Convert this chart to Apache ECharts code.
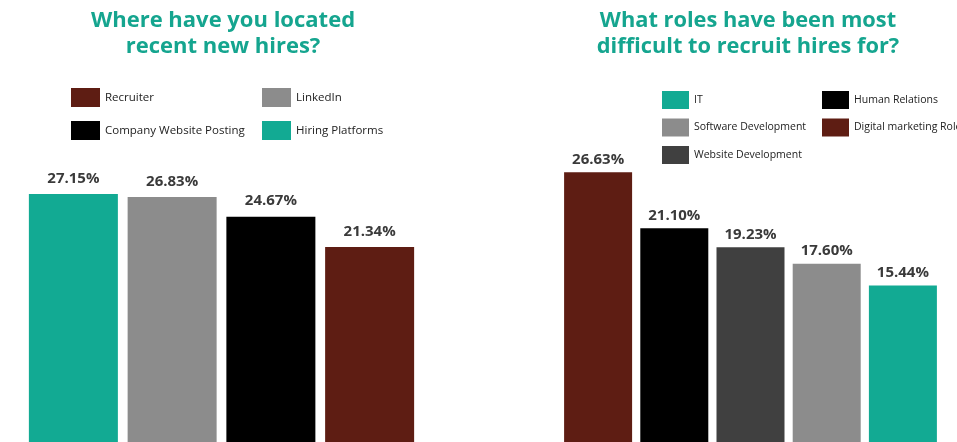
<!DOCTYPE html>
<html>
<head>
<meta charset="utf-8">
<script src="https://cdn.jsdelivr.net/npm/echarts@6/dist/echarts.min.js"></script>
<style>
html, body { margin: 0; padding: 0; background: #fff; }
#hiresChart { width: 957px; height: 442px; }
</style>
</head>
<body>
<div id="hiresChart"></div>
<script>
// left chart: where new hires were located
var sourceNames = ['Hiring Platforms', 'LinkedIn', 'Company Website Posting', 'Recruiter']
var sourceValues = [27.15, 26.83, 24.67, 21.34]
var sourceColors = ['#12aa93', '#8c8c8c', '#000000', '#5e1d13']

// right chart: most difficult roles to recruit
var roleNames = ['Digital marketing Roles', 'Human Relations', 'Website Development', 'Software Development', 'IT']
var roleValues = [26.63, 21.10, 19.23, 17.60, 15.44]
var roleColors = ['#5e1d13', '#000000', '#404040', '#8c8c8c', '#12aa93']

var chart = echarts.init(document.getElementById('hiresChart'))

function makeSeries(names, values, colors, idx, width, dist) {
    return names.map(function(name, i) {
        return {
            name: name,
            type: 'bar',
            xAxisIndex: idx,
            yAxisIndex: idx,
            barWidth: width,
            barGap: '-100%',
            itemStyle: { color: colors[i] },
            label: {
                show: true,
                position: 'top',
                distance: dist,
                color: '#3a3a3a',
                fontFamily: 'Open Sans',
                fontWeight: 'bold',
                fontSize: 15,
                formatter: function(p) {
                    return p.value.toFixed(2) + '%'
                }
            },
            data: values.map(function(v, j) { return j === i ? v : '-' })
        }
    })
}

var leftLegendText = { fontFamily: 'Open Sans', fontSize: 11.5, color: '#222' }
var rightLegendText = { fontFamily: 'Open Sans', fontSize: 10.5, color: '#222' }

var option = {
    backgroundColor: '#fff',
    animation: false,
    title: [
        {
            text: 'Where have you located\nrecent new hires?',
            left: 223, top: 8, padding: 0, textAlign: 'center',
            textStyle: { fontFamily: 'Open Sans', fontWeight: 'bold', fontSize: 22, lineHeight: 26, color: '#15a58f' }
        },
        {
            text: 'What roles have been most\ndifficult to recruit hires for?',
            left: 748, top: 8, padding: 0, textAlign: 'center',
            textStyle: { fontFamily: 'Open Sans', fontWeight: 'bold', fontSize: 21.8, lineHeight: 26, color: '#15a58f' }
        }
    ],
    legend: [
        { data: ['Recruiter', 'Company Website Posting'], orient: 'vertical', left: 71, top: 88, padding: 0,
          itemWidth: 29, itemHeight: 19, itemGap: 14, icon: 'rect', textStyle: leftLegendText },
        { data: ['LinkedIn', 'Hiring Platforms'], orient: 'vertical', left: 262, top: 88, padding: 0,
          itemWidth: 29, itemHeight: 19, itemGap: 14, icon: 'rect', textStyle: leftLegendText },
        { data: ['IT', 'Software Development', 'Website Development'], orient: 'vertical', left: 662, top: 91, padding: 0,
          itemWidth: 27, itemHeight: 18, itemGap: 9.5, icon: 'rect', textStyle: rightLegendText },
        { data: ['Human Relations', 'Digital marketing Roles'], orient: 'vertical', left: 822, top: 91, padding: 0,
          itemWidth: 27, itemHeight: 18, itemGap: 9.5, icon: 'rect', textStyle: rightLegendText }
    ],
    grid: [
        { left: 24, width: 395, top: 168, height: 278 },
        { left: 560, width: 381, top: 138, height: 307 }
    ],
    xAxis: [
        { type: 'category', gridIndex: 0, data: sourceNames, show: false },
        { type: 'category', gridIndex: 1, data: roleNames, show: false }
    ],
    yAxis: [
        { type: 'value', gridIndex: 0, min: 0, max: 30, show: false },
        { type: 'value', gridIndex: 1, min: 0, max: 30, show: false }
    ],
    series: makeSeries(sourceNames, sourceValues, sourceColors, 0, 89, 8)
        .concat(makeSeries(roleNames, roleValues, roleColors, 1, 68, 5))
}

chart.setOption(option)
</script>
</body>
</html>
